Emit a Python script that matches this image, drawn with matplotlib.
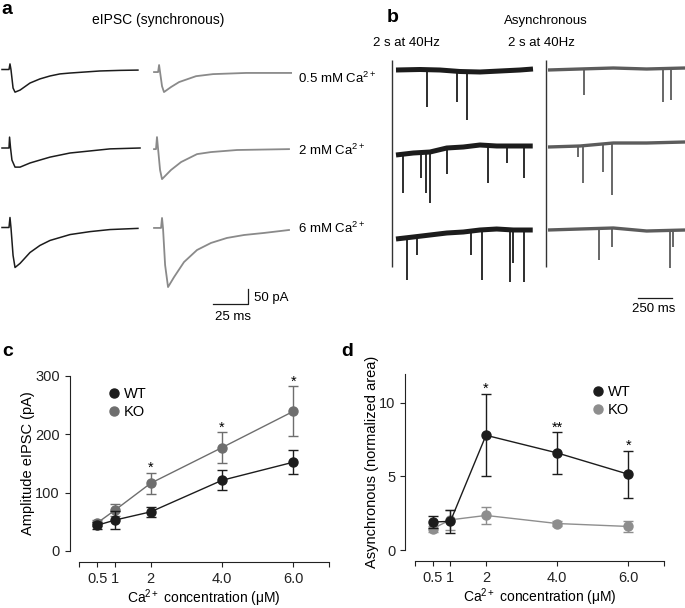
import numpy as np
import matplotlib
matplotlib.use("Agg")
import matplotlib.pyplot as plt
from matplotlib.lines import Line2D

plt.rcParams['font.family'] = ['Liberation Sans', 'DejaVu Sans']
plt.rcParams['mathtext.fontset'] = 'custom'
plt.rcParams['mathtext.rm'] = 'Liberation Sans'
plt.rcParams['mathtext.it'] = 'Liberation Sans:italic'
plt.rcParams['mathtext.bf'] = 'Liberation Sans:bold'

W, H = 685, 608

# ---------------- data: panel c / d ----------------
ca_conc = [0.5, 1, 2, 4, 6]
xtick_labels = ['0.5', '1', '2', '4.0', '6.0']

amp_wt = [44, 53, 67, 121, 152]
amp_wt_err = [6, 15, 8, 17, 20]
amp_ko = [48, 70, 116, 177, 239]
amp_ko_err = [5, 10, 18, 26, 43]
amp_stars = ['', '', '*', '*', '*']

async_wt = [1.9, 1.95, 7.8, 6.6, 5.15]
async_wt_err = [0.4, 0.8, 2.8, 1.4, 1.6]
async_ko = [1.45, 2.05, 2.35, 1.8, 1.6]
async_ko_err = [0.2, 0.7, 0.6, 0.2, 0.35]
async_stars = ['', '', '*', '**', '*']

# ---------------- data: panel a (eIPSC traces, ms / pA) ----------------
wt_05_t = [0, 5, 5.7, 6.4, 7.9, 9.3, 12.9, 20, 27.1, 34.3, 41.4, 48.6, 59.3, 70, 84.3, 97.1]
wt_05_i = [0, 0, 19, 0, -63, -77, -70, -46, -32, -22, -15, -12, -8.5, -5, -3, -2]
wt_2_t = [0, 5, 5.4, 6.1, 7.1, 9.3, 12.9, 20, 27.1, 34.3, 48.6, 62.9, 77.1, 98.6]
wt_2_i = [0, 0, 37, 0, -41, -65, -65, -51, -41, -31, -17, -10, -3, 0]
wt_6_t = [0, 5, 5.7, 6.4, 7.9, 9.3, 12.9, 20, 27.1, 34.3, 48.6, 62.9, 77.1, 97.1]
wt_6_i = [0, 0, 34, 0, -95, -136, -122, -85, -61, -44, -24, -14, -7, -3]
ko_05_t = [0, 2.9, 3.6, 4.3, 5.7, 7.1, 12.1, 17.9, 30, 42.1, 65.7, 97.9]
ko_05_i = [0, 0, 24, 0, -48, -68, -51, -34, -14, -7, -3, -3]
ko_2_t = [0, 1.4, 2.1, 2.9, 4.3, 5.7, 12.1, 19.3, 30.7, 40.7, 59.3, 96.4]
ko_2_i = [0, 0, 41, 0, -71, -102, -71, -44, -17, -10, -3, 0]
ko_6_t = [0, 5, 5.7, 6.4, 7.9, 10, 14.3, 21.4, 30.7, 40.7, 52.1, 64.3, 78.6, 96.4]
ko_6_i = [0, 0, 34, 0, -126, -201, -167, -116, -75, -51, -34, -24, -17, -7]
trace_labels = ['0.5 mM Ca$^{2+}$', '2 mM Ca$^{2+}$', '6 mM Ca$^{2+}$']

# ---------------- data: panel b (asynchronous traces, ms / pA) ----------------
wt_b1_base_t = [0, 176, 323, 470, 617, 764, 911, 1007]
wt_b1_base_i = [0, 1, 0, -3, -4, -2, 0, 2]
wt_b1_ev_t = [226, 446, 524]
wt_b1_ev_i = [-74, -64, -99]
wt_b2_base_t = [0, 127, 250, 373, 495, 617, 740, 862, 1005]
wt_b2_base_i = [0, 4, 6, 14, 16, 20, 18, 18, 18]
wt_b2_ev_t = [49, 182, 218, 250, 373, 678, 814, 941]
wt_b2_ev_i = [-76, -46, -76, -96, -38, -56, -16, -46]
wt_b3_base_t = [0, 127, 250, 373, 495, 617, 740, 862, 1005]
wt_b3_base_i = [0, 4, 8, 12, 14, 18, 20, 18, 18]
wt_b3_ev_t = [83, 157, 549, 630, 838, 858, 941]
wt_b3_ev_i = [-82, -32, -32, -82, -86, -48, -86]
ko_b1_base_t = [0, 235, 480, 725, 1007]
ko_b1_base_i = [0, 2, 4, 2, 4]
ko_b1_ev_t = [265, 848, 902]
ko_b1_ev_i = [-50, -63, -59]
ko_b2_base_t = [0, 235, 480, 725, 1007]
ko_b2_base_i = [0, 2, 8, 8, 10]
ko_b2_ev_t = [223, 255, 406, 468]
ko_b2_ev_i = [-20, -72, -49, -95]
ko_b3_base_t = [0, 235, 480, 725, 1007]
ko_b3_base_i = [0, 2, 4, -2, 0]
ko_b3_ev_t = [375, 473, 897, 919]
ko_b3_ev_i = [-60, -33, -76, -33]

BLACK = '#1c1c1c'
GRAY_A = '#8a8a8a'
GRAY_B = '#5c5c5c'
GRAY_C = '#6e6e6e'
GRAY_D = '#8e8e8e'

fig = plt.figure(figsize=(W / 100, H / 100), dpi=100)


def fx(x):
    return x / W


def fy(y):
    return 1 - y / H


def add_ax(x0, y0, x1, y1):
    return fig.add_axes([fx(x0), fy(y1), (x1 - x0) / W, (y1 - y0) / H])


FS = 10.5
FT = 9.5

# ---------------- panel a ----------------
axa = add_ax(0, 40, 300, 330)
axa.set_xlim(-2 / 1.4, 298 / 1.4)
axa.set_ylim(0, 290 * 3.4)
axa.axis('off')
row_base_wt = [885.7, 618.8, 348.5]
row_base_ko = [877, 615, 347]
ko_offset = 108.6
for (t, i), b in zip([(wt_05_t, wt_05_i), (wt_2_t, wt_2_i), (wt_6_t, wt_6_i)], row_base_wt):
    axa.plot(np.array(t), np.array(i) + b, color=BLACK, lw=1.1, solid_joinstyle='round')
for (t, i), b in zip([(ko_05_t, ko_05_i), (ko_2_t, ko_2_i), (ko_6_t, ko_6_i)], row_base_ko):
    axa.plot(np.array(t) + ko_offset, np.array(i) + b, color=GRAY_A, lw=1.3, solid_joinstyle='round')
# scale bars 25 ms / 50 pA
sb_x1 = (248 - 2) / 1.4
sb_y0 = (330 - 304) * 3.4
axa.plot([sb_x1 - 25, sb_x1, sb_x1], [sb_y0, sb_y0, sb_y0 + 50], color=BLACK, lw=0.9)

fig.text(fx(158), fy(20), 'eIPSC (synchronous)', ha='center', va='center', fontsize=10)
for lab, y in zip(trace_labels, [78, 150, 228]):
    fig.text(fx(298), fy(y), lab, ha='left', va='center', fontsize=FT)
fig.text(fx(254), fy(298), '50 pA', ha='left', va='center', fontsize=FT)
fig.text(fx(215), fy(317), '25 ms', ha='left', va='center', fontsize=FT)

# ---------------- panel b ----------------
axb = add_ax(385, 50, 685, 300)
axb.set_xlim((385 - 396) * 7.35, (685 - 396) * 7.35)
axb.set_ylim(0, 500)
axb.axis('off')
gray_off = (548 - 396) * 7.35
wt_rows = [(wt_b1_base_t, wt_b1_base_i, wt_b1_ev_t, wt_b1_ev_i, 460),
           (wt_b2_base_t, wt_b2_base_i, wt_b2_ev_t, wt_b2_ev_i, 290),
           (wt_b3_base_t, wt_b3_base_i, wt_b3_ev_t, wt_b3_ev_i, 122)]
ko_rows = [(ko_b1_base_t, ko_b1_base_i, ko_b1_ev_t, ko_b1_ev_i, 460),
           (ko_b2_base_t, ko_b2_base_i, ko_b2_ev_t, ko_b2_ev_i, 306),
           (ko_b3_base_t, ko_b3_base_i, ko_b3_ev_t, ko_b3_ev_i, 140)]
for rows, off, col, lwb in [(wt_rows, 0, BLACK, 3.6), (ko_rows, gray_off, GRAY_B, 2.4)]:
    for bt, bi, et, ei, base in rows:
        bt = np.array(bt, float)
        bi = np.array(bi, float)
        axb.plot(bt + off, bi + base, color=col, lw=lwb, solid_capstyle='butt')
        et = np.array(et, float)
        loc = np.interp(et, bt, bi)
        axb.vlines(et + off, loc + base, np.array(ei) + base, color=col, lw=1.3)
# dividers
axb.vlines([(392 - 396) * 7.35, (546 - 396) * 7.35], (300 - 267) * 2, (300 - 60) * 2,
           color='#333333', lw=1.0)
# 250 ms scale bar
sbx0 = (637.7 - 396) * 7.35
axb.plot([sbx0, sbx0 + 250], [(300 - 298.3) * 2] * 2, color=BLACK, lw=0.9, clip_on=False)
fig.text(fx(654), fy(309), '250 ms', ha='center', va='center', fontsize=FT)
fig.text(fx(546), fy(21), 'Asynchronous', ha='center', va='center', fontsize=FT)
fig.text(fx(406), fy(43), '2 s at 40Hz', ha='center', va='center', fontsize=FT)
fig.text(fx(541), fy(43), '2 s at 40Hz', ha='center', va='center', fontsize=FT)

# ---------------- panels c, d ----------------


def style_axis(ax, ymax, yticks):
    ax.set_xlim(0, 7)
    ax.set_ylim(0, ymax)
    for s in ['top', 'right']:
        ax.spines[s].set_visible(False)
    ax.spines['left'].set_position(('outward', 7))
    ax.spines['bottom'].set_position(('outward', 8))
    ax.spines['left'].set_bounds(0, ymax)
    ax.set_xticks([0, 0.5, 1, 2, 4, 6, 7])
    ax.set_xticklabels([''] + xtick_labels + [''])
    ax.set_yticks(yticks)
    ax.tick_params(axis='both', direction='out', length=3.5, width=0.8, labelsize=FS, colors='#222222')
    for s in ['left', 'bottom']:
        ax.spines[s].set_linewidth(0.8)
        ax.spines[s].set_color('#222222')
    ax.set_xlabel('Ca$^{2+}$ concentration (\u03bcM)', fontsize=10, labelpad=1)


def draw_series(ax, y, e, col, z):
    ax.errorbar(ca_conc, y, yerr=e, color=col, marker='o', markersize=6.5, lw=1.0,
                capsize=3.5, capthick=1.0, elinewidth=1.0, zorder=z, clip_on=False)


def stars(ax, y, e, s, dy):
    for xi, yi, ei, si in zip(ca_conc, y, e, s):
        if si:
            ax.annotate(si, (xi, yi + ei), xytext=(0, dy), textcoords='offset points',
                        ha='center', va='bottom', fontsize=FS, annotation_clip=False)


axc = add_ax(79.4, 375.7, 329, 551)
style_axis(axc, 300, [0, 100, 200, 300])
draw_series(axc, amp_wt, amp_wt_err, BLACK, 4)
draw_series(axc, amp_ko, amp_ko_err, GRAY_C, 3)
stars(axc, amp_ko, amp_ko_err, amp_stars, -1.5)
axc.set_ylabel('Amplitude eIPSC (pA)', fontsize=FS, labelpad=0)
hc = [Line2D([], [], color=BLACK, marker='o', ls='none', markersize=6.5),
      Line2D([], [], color=GRAY_C, marker='o', ls='none', markersize=6.5)]
axc.legend(hc, ['WT', 'KO'], loc='center left', bbox_to_anchor=(0.08, 0.845), frameon=False,
           fontsize=FS, handletextpad=0.1, labelspacing=0.25, borderaxespad=0, handlelength=1.2)

axd = add_ax(414.8, 373.5, 664, 550)
style_axis(axd, 12, [0, 5, 10])
draw_series(axd, async_wt, async_wt_err, BLACK, 4)
draw_series(axd, async_ko, async_ko_err, GRAY_D, 3)
stars(axd, async_wt, async_wt_err, async_stars, -1.5)
axd.set_ylabel('Asynchronous (normalized area)', fontsize=FS, labelpad=0)
hd = [Line2D([], [], color=BLACK, marker='o', ls='none', markersize=6.5),
      Line2D([], [], color=GRAY_D, marker='o', ls='none', markersize=6.5)]
axd.legend(hd, ['WT', 'KO'], loc='center left', bbox_to_anchor=(0.675, 0.845), frameon=False,
           fontsize=FS, handletextpad=0.1, labelspacing=0.25, borderaxespad=0, handlelength=1.2)

# panel letters
for lab, x, y in [('a', 1, 9), ('b', 387, 18), ('c', 2, 352), ('d', 341, 352)]:
    fig.text(fx(x), fy(y), lab, ha='left', va='center', fontsize=14, fontweight='bold')

fig.savefig('out.png', dpi=100)
